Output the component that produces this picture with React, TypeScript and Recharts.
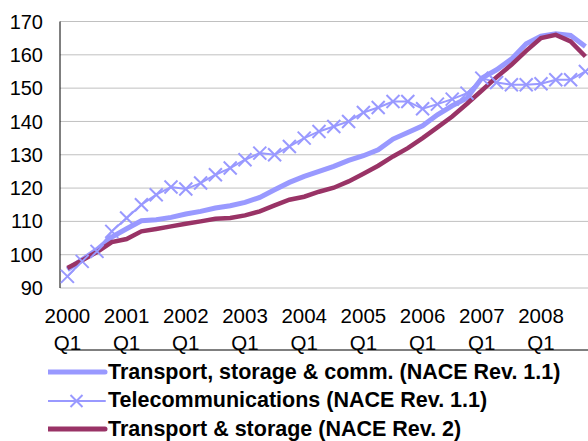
import { LineChart, Line, XAxis, YAxis, CartesianGrid, Legend } from "recharts";

const FONT = '"Liberation Sans", Arial, sans-serif';

const years = ["2000", "2001", "2002", "2003", "2004", "2005", "2006", "2007", "2008"];
const quarters = ["Q1", "Q2", "Q3", "Q4"];

// Transport, storage & comm. (NACE Rev. 1.1)
const commRev11 = [
  95.5, 98.5, 101.5, 105.3, 107.8, 110.2, 110.5, 111.2, 112.2, 113, 114, 114.7,
  115.7, 117.2, 119.5, 121.7, 123.5, 125, 126.5, 128.3, 129.7, 131.5, 134.7, 136.7,
  138.7, 142, 144.7, 147, 153, 155.5, 158.7, 163.3, 165.6, 166.3, 165.8, 162.5,
];

// Telecommunications (NACE Rev. 1.1)
const telecomRev11 = [
  93.5, 98, 101, 107, 111, 115, 118, 120.3, 119.7, 121.5, 124, 126,
  128.5, 130.5, 130, 132.5, 135, 137, 138.5, 140, 142.7, 144.2, 146, 146,
  143.8, 145.2, 146.7, 148.5, 153, 151.7, 151, 151, 151.3, 152.5, 152.5, 155,
];

// Transport & storage (NACE Rev. 2)
const transportRev2 = [
  96, 98.3, 100.8, 103.8, 104.7, 107, 107.7, 108.5, 109.3, 110, 110.8, 111,
  111.8, 113, 114.8, 116.5, 117.4, 118.9, 120.1, 122, 124.3, 126.7, 129.5, 132,
  135, 138.2, 141.5, 145.3, 149.3, 153.3, 157, 161.2, 165, 166, 164, 159.5,
];

const yTicks = [90, 100, 110, 120, 130, 140, 150, 160, 170];

const seriesOrder = ["comm", "telecom", "transport"];

const periods = years.flatMap((y) => quarters.map((q) => ({ year: y, quarter: q })));

const data = periods.map((p, i) => ({
  idx: i,
  year: p.year,
  quarter: p.quarter,
  comm: commRev11[i],
  telecom: telecomRev11[i],
  transport: transportRev2[i],
}));

const BLUE = "#9999FF";
const PURPLE = "#993366";

// boundaries between years get tick marks, first quarter of each year gets a label
const boundaryTicks = years.map((_, k) => k * 4 - 0.5).concat([years.length * 4 - 0.5]);
const labelTicks = years.map((_, k) => k * 4);

const Cross = (props: any) => {
  const { cx, cy, index } = props;
  if (cx == null || cy == null) return <g key={`c-${index}`} />;
  const s = 6.5;
  return (
    <g key={`c-${index}`}>
      <line x1={cx - s} y1={cy - s} x2={cx + s} y2={cy + s} stroke={BLUE} strokeWidth={2} />
      <line x1={cx - s} y1={cy + s} x2={cx + s} y2={cy - s} stroke={BLUE} strokeWidth={2} />
    </g>
  );
};

const YearTick = (props: any) => {
  const { x, y, payload } = props;
  const p = periods[payload.value];
  if (!p) return null;
  return (
    <text x={x} y={y} textAnchor="middle" fontFamily={FONT} fontSize={20.5} fill="#000">
      <tspan x={x} dy={35}>{p.year}</tspan>
      <tspan x={x} dy={26.6}>{p.quarter}</tspan>
    </text>
  );
};

const LegendBox = (props: any) => {
  const items = [...(props.payload || [])].sort(
    (a: any, b: any) => seriesOrder.indexOf(a.dataKey) - seriesOrder.indexOf(b.dataKey),
  );
  return (
    <div style={{ paddingLeft: 48, fontFamily: FONT, fontWeight: "bold", fontSize: 21.5, color: "#000" }}>
      {items.map((p: any) => (
        <div key={p.value} style={{ display: "flex", alignItems: "center", height: 28.5 }}>
          <svg width={60} height={20} style={{ flex: "none" }}>
            <line
              x1={0}
              x2={57}
              y1={10}
              y2={10}
              stroke={p.color}
              strokeWidth={p.dataKey === "telecom" ? 2 : 5}
              strokeLinecap="round"
            />
            {p.dataKey === "telecom" && (
              <g>
                <line x1={22.5} y1={4} x2={34.5} y2={16} stroke={p.color} strokeWidth={2} />
                <line x1={22.5} y1={16} x2={34.5} y2={4} stroke={p.color} strokeWidth={2} />
              </g>
            )}
          </svg>
          <span style={{ whiteSpace: "nowrap" }}>{p.value}</span>
        </div>
      ))}
    </div>
  );
};

export default function App() {
  return (
    <div
      style={{
        position: "absolute",
        left: 0,
        top: 0,
        width: 588,
        height: 441,
        overflow: "hidden",
        background: "#fff",
      }}
    >
      <LineChart
        width={600}
        height={444}
        data={data}
        margin={{ top: 21.5, right: 7.2, bottom: 0, left: 0 }}
      >
        <CartesianGrid vertical={false} stroke="#c0c0c0" strokeWidth={1} />
        <XAxis
          xAxisId="marks"
          dataKey="idx"
          type="number"
          domain={[-0.5, 35.5]}
          ticks={boundaryTicks}
          tick={false}
          tickSize={7}
          height={8}
          stroke="#000"
          tickLine={{ stroke: "#333" }}
          allowDataOverflow
        />
        <XAxis
          xAxisId="labels"
          dataKey="idx"
          type="number"
          domain={[-0.5, 35.5]}
          ticks={labelTicks}
          tick={<YearTick />}
          tickSize={0}
          tickMargin={0}
          axisLine={false}
          tickLine={false}
          height={62}
          interval={0}
        />
        <YAxis
          domain={[90, 170]}
          ticks={yTicks}
          width={60}
          tickLine={false}
          tickSize={0}
          tickMargin={17}
          stroke="#000"
          tick={{ fontFamily: FONT, fontSize: 20, fill: "#000" }}
          interval={0}
        />
        <Legend
          verticalAlign="bottom"
          align="left"
          layout="horizontal"
          height={86}
          itemSorter={null}
          wrapperStyle={{ left: 0, height: 86, width: 588 }}
          content={<LegendBox />}
        />
        <Line
          xAxisId="marks"
          type="linear"
          dataKey="comm"
          name="Transport, storage & comm. (NACE Rev. 1.1)"
          stroke={BLUE}
          strokeWidth={5}
          dot={false}
          isAnimationActive={false}
        />
        <Line
          xAxisId="marks"
          type="linear"
          dataKey="telecom"
          name="Telecommunications (NACE Rev. 1.1)"
          stroke={BLUE}
          strokeWidth={2}
          dot={Cross}
          isAnimationActive={false}
        />
        <Line
          xAxisId="marks"
          type="linear"
          dataKey="transport"
          name="Transport & storage (NACE Rev. 2)"
          stroke={PURPLE}
          strokeWidth={4.5}
          dot={false}
          isAnimationActive={false}
        />
      </LineChart>
    </div>
  );
}
